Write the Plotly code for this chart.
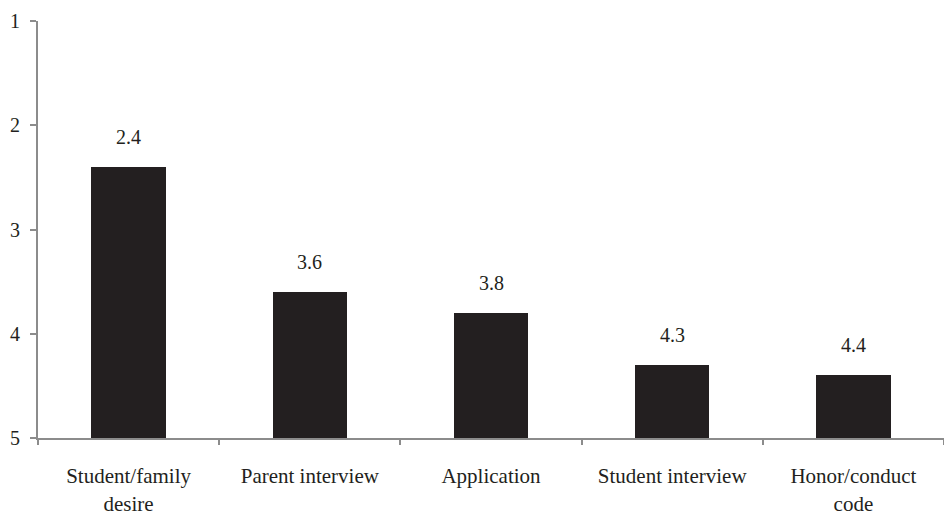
import plotly.graph_objects as go

# Mean rank of each admission factor (1 = most important, 5 = least)
categories = ["Student/family<br>desire", "Parent interview", "Application",
              "Student interview", "Honor/conduct<br>code"]
mean_rank = [2.4, 3.6, 3.8, 4.3, 4.4]
rank_ticks = [1, 2, 3, 4, 5]

BASE = 5
INK = "#231f20"
AXIS = "#8c8c8c"
FONT = "Liberation Serif"

fig = go.Figure()
fig.add_trace(go.Bar(
    x=categories,
    y=[v - BASE for v in mean_rank],
    base=BASE,
    width=0.41,
    marker=dict(color=INK, line=dict(width=0)),
    hoverinfo="skip",
))

# value labels above each bar
for cat, v in zip(categories, mean_rank):
    fig.add_annotation(x=cat, y=v, text=f"{v:.1f}", showarrow=False,
                       yanchor="bottom", yshift=17,
                       font=dict(family=FONT, size=20, color=INK))

fig.update_layout(
    width=944, height=518,
    margin=dict(l=38, r=0, t=21, b=80),
    paper_bgcolor="white", plot_bgcolor="white",
    showlegend=False,
    bargap=0,
    font=dict(family=FONT, size=20, color=INK),
)
fig.update_xaxes(
    type="category", range=[-0.5, 4.5],
    showline=True, linecolor=AXIS, linewidth=2,
    ticks="outside", tickson="boundaries", ticklen=5, tickcolor=AXIS, tickwidth=1.5,
    showgrid=False, zeroline=False,
    tickfont=dict(family=FONT, size=21, color=INK),
    ticklabelstandoff=18,
)
fig.update_yaxes(
    range=[5, 1], tickvals=rank_ticks,
    showline=True, linecolor=AXIS, linewidth=2,
    ticks="outside", ticklen=6, tickcolor=AXIS, tickwidth=1.5,
    showgrid=False, zeroline=False,
    tickfont=dict(family=FONT, size=20, color=INK),
    ticklabelstandoff=6,
)

fig.write_html("out.html")
